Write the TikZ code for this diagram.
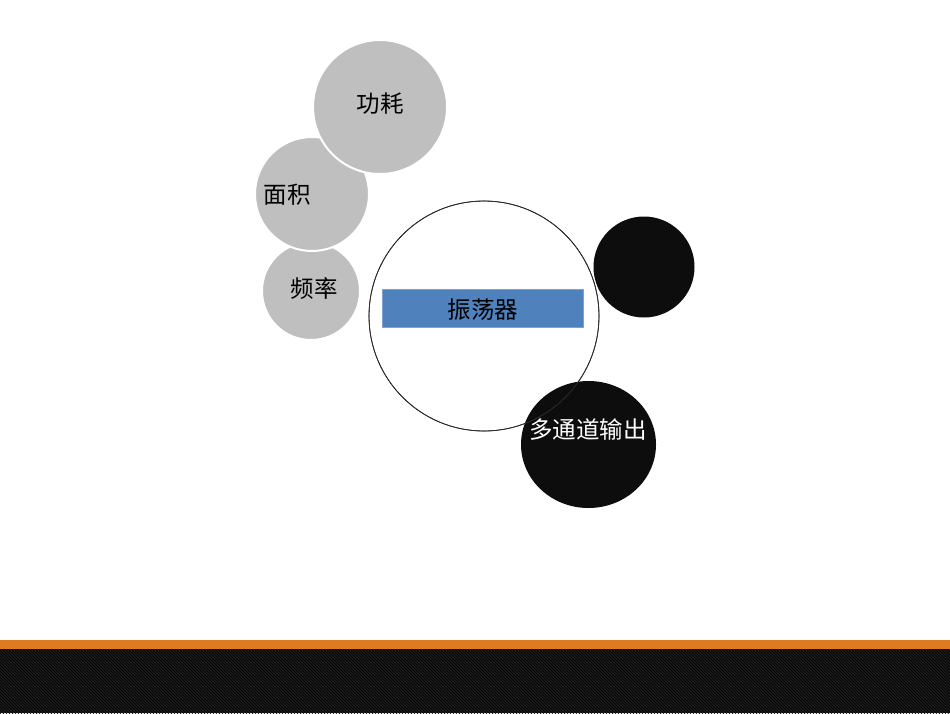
\documentclass[tikz,border=0pt]{standalone}
\usepackage{fontspec}
\newfontfamily\cjk{Noto Sans CJK SC}
\usetikzlibrary{patterns,shapes.geometric}
\definecolor{bubblegray}{HTML}{BFBFBF}
\definecolor{bubbleblack}{HTML}{0D0D0D}
\definecolor{oscblue}{HTML}{4F81BD}
\definecolor{oscedge}{HTML}{7DA2CF}
\definecolor{barorange}{HTML}{E07A1F}
\definecolor{bardark}{HTML}{1C1C1C}
\tikzset{
  graybubble/.style={circle, fill=bubblegray, draw=white, line width=2pt, inner sep=0pt},
  blackbubble/.style={circle, fill=bubbleblack, draw=none, inner sep=0pt},
  lbl/.style={font=\cjk\fontsize{23.5}{27}\selectfont, inner sep=0pt},
}
\begin{document}
\begin{tikzpicture}[x=1pt,y=-1pt]
\useasboundingbox (0,0) rectangle (950,713);
\fill[white] (0,0) rectangle (950,713);
% bottom bar
\fill[barorange] (0,640) rectangle (950,649);
\fill[bardark] (0,649) rectangle (950,713);
\fill[pattern=north west lines, pattern color=black] (0,649) rectangle (950,713);
% gray bubbles
\node[graybubble, minimum size=98pt] (freq) at (311,291) {};
\node[lbl] at (314,289) {频率};
\node[graybubble, minimum size=114pt] (area) at (312,194) {};
\node[lbl] at (287,195) {面积};
\node[graybubble, minimum size=134pt] (power) at (380,107) {};
\node[lbl] at (380,104) {功耗};
% central circle
\node[circle, fill=white, draw=black, line width=0.8pt, minimum size=230pt, inner sep=0pt] (core) at (484,316) {};
\node[rectangle, fill=oscblue, draw=oscedge, line width=0.8pt, minimum width=201pt, minimum height=38pt, inner sep=0pt] (osc) at (482.5,308) {};
\node[lbl] at (483,310) {振荡器};
% black bubbles
\node[blackbubble, minimum size=101pt] (dot) at (644,267) {};
\node[ellipse, fill=bubbleblack, draw=none, inner sep=0pt, minimum width=135pt, minimum height=127pt] (multi) at (588.5,444.5) {};
\draw[color=black!80!white, line width=0.6pt] (core.center) circle[radius=115pt];
\node[lbl, text=white] at (588,430) {多通道输出};
\end{tikzpicture}
\end{document}
